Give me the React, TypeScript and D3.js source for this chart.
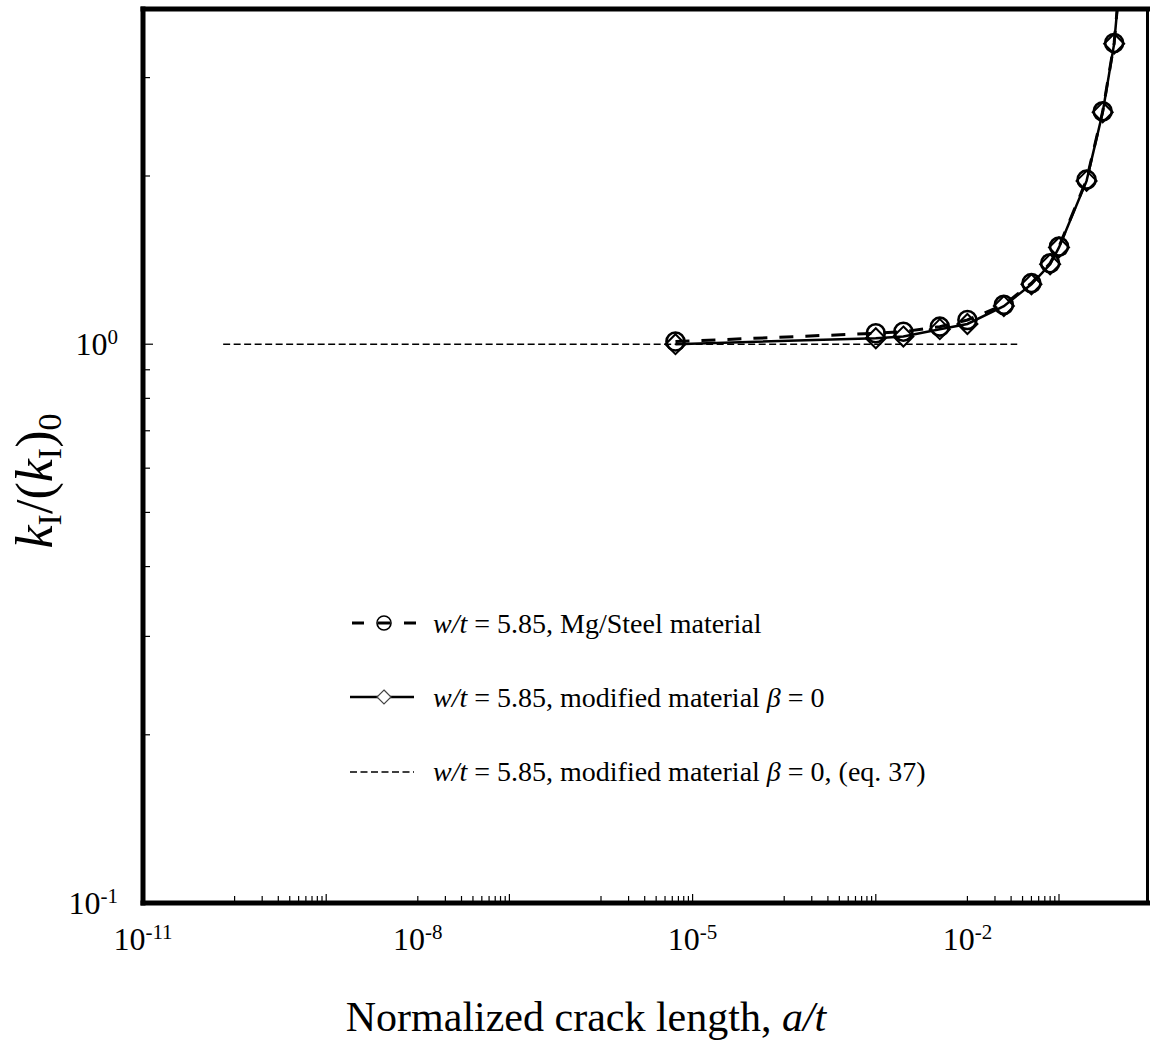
import React from "react";
import * as d3 from "d3";

// Normalized crack length a/t at which stress intensity factors were computed
const crackRatio = [6.5e-6, 0.001, 0.002, 0.005, 0.01, 0.025, 0.05, 0.08, 0.1, 0.2, 0.3, 0.4, 0.5];
// k_I/(k_I)_0 for the Mg/Steel bimaterial, w/t = 5.85
const kMgSteel = [1.011, 1.046, 1.053, 1.075, 1.105, 1.176, 1.286, 1.396, 1.495, 1.97, 2.61, 3.46, 5.2];
// k_I/(k_I)_0 for the modified material with beta = 0
const kModified = [1.0, 1.025, 1.032, 1.064, 1.087, 1.17, 1.28, 1.39, 1.49, 1.96, 2.6, 3.45, 5.2];
// Closed-form result (eq. 37), constant over its range
const eq37Ratio = [7.5e-11, 0.035];
const eq37K = [1, 1];

// Axis decorations
const xLabelExponents = [-11, -8, -5, -2];
const xMinorDecades = [-10, -8, -6, -4, -2];
const yLabelExponents = [-1, 0];
const yMinorValues = [0.2, 0.3, 0.4, 0.5, 0.6, 0.7, 0.8, 0.9, 2, 3];

const W = 1151;
const H = 1047;
const plot = { left: 143, right: 1147.5, top: 9, bottom: 903 };
const FONT = "'Liberation Serif', 'Times New Roman', Times, serif";

const x = d3.scaleLog().domain([1e-11, 0.925]).range([plot.left, plot.right]);
const y = d3.scaleLog().domain([0.1, 3.98]).range([plot.bottom, plot.top]);

const line = d3
  .line<[number, number]>()
  .x((d) => x(d[0]))
  .y((d) => y(d[1]));

const zip = (a: number[], b: number[]) => a.map((v, i) => [v, b[i]] as [number, number]);

const diamond = (cx: number, cy: number, r: number) =>
  `M${cx},${cy - r}L${cx + r},${cy}L${cx},${cy + r}L${cx - r},${cy}Z`;

const Pow10 = ({ exp, xPos, yPos, anchor }: { exp: number; xPos: number; yPos: number; anchor: string }) => (
  <text x={xPos} y={yPos} textAnchor={anchor} fontFamily={FONT} fontSize={32} fill="#000">
    10
    <tspan fontSize={21} dy={-11}>
      {exp < 0 ? `-${Math.abs(exp)}` : `${exp}`}
    </tspan>
  </text>
);

export default function App() {
  const mgPts = zip(crackRatio, kMgSteel);
  const modPts = zip(crackRatio, kModified);
  const eqPts = zip(eq37Ratio, eq37K);

  const xMinor: { v: number; end: boolean }[] = [];
  xMinorDecades.forEach((k) => {
    for (let m = 1; m <= 10; m++) xMinor.push({ v: m * Math.pow(10, k), end: m === 10 });
  });

  return (
    <svg
      width={W}
      height={H}
      style={{ position: "absolute", left: 0, top: 0, background: "#fff" }}
    >
      <defs>
        <clipPath id="plotArea">
          <rect
            x={plot.left}
            y={plot.top}
            width={plot.right - plot.left}
            height={plot.bottom - plot.top}
          />
        </clipPath>
      </defs>
      <rect width={W} height={H} fill="#fff" />

      {/* series */}
      <g clipPath="url(#plotArea)" fill="none" stroke="#000">
        <path d={line(eqPts) || ""} strokeWidth={1.6} strokeDasharray="7 3.5" />
        <path d={line(modPts) || ""} strokeWidth={2.5} />
        {modPts.map((d, i) => (
          <path key={"d" + i} d={diamond(x(d[0]), y(d[1]), 10)} strokeWidth={2} />
        ))}
        <path d={line(mgPts) || ""} strokeWidth={3} strokeDasharray="14 12" />
        {mgPts.map((d, i) => (
          <circle key={"c" + i} cx={x(d[0])} cy={y(d[1])} r={9} strokeWidth={2.6} />
        ))}
      </g>

      {/* minor and major ticks, pointing inward */}
      <g stroke="#000" strokeWidth={1.2}>
        {xMinor.map((t, i) => (
          <line
            key={"xt" + i}
            x1={x(t.v)}
            x2={x(t.v)}
            y1={plot.bottom}
            y2={plot.bottom - (t.end ? 9 : 7)}
          />
        ))}
        {yMinorValues.map((v, i) => (
          <line key={"yt" + i} x1={plot.left} x2={plot.left + 7} y1={y(v)} y2={y(v)} />
        ))}
        <line x1={plot.left} x2={plot.left + 10} y1={y(1)} y2={y(1)} />
      </g>

      {/* frame */}
      <g stroke="#000" strokeLinecap="square">
        <line x1={plot.left} x2={plot.right} y1={plot.top} y2={plot.top} strokeWidth={5} />
        <line x1={plot.right} x2={plot.right} y1={plot.top} y2={plot.bottom} strokeWidth={3} />
        <line x1={plot.left} x2={plot.right} y1={plot.bottom} y2={plot.bottom} strokeWidth={5} />
        <line x1={plot.left} x2={plot.left} y1={plot.top} y2={plot.bottom} strokeWidth={5} />
      </g>

      {/* tick labels */}
      {xLabelExponents.map((e) => (
        <Pow10 key={"xl" + e} exp={e} xPos={x(Math.pow(10, e))} yPos={950} anchor="middle" />
      ))}
      {yLabelExponents.map((e) => (
        <Pow10 key={"yl" + e} exp={e} xPos={118} yPos={y(Math.pow(10, e)) + 11} anchor="end" />
      ))}

      {/* axis titles */}
      <text x={586} y={1031} textAnchor="middle" fontFamily={FONT} fontSize={42} fill="#000">
        Normalized crack length, <tspan fontStyle="italic">a/t</tspan>
      </text>
      <text
        transform="translate(52,481) rotate(-90)"
        textAnchor="middle"
        fontFamily={FONT}
        fontSize={52}
        fill="#000"
      >
        <tspan fontStyle="italic">k</tspan>
        <tspan fontSize={34} dy={9}>I</tspan>
        <tspan dy={-9}>/(</tspan>
        <tspan fontStyle="italic">k</tspan>
        <tspan fontSize={34} dy={9}>I</tspan>
        <tspan dy={-9}>)</tspan>
        <tspan fontSize={34} dy={9}>0</tspan>
      </text>

      {/* legend */}
      <g fill="none" stroke="#000">
        <line x1={352} x2={416} y1={623} y2={623} strokeWidth={3} strokeDasharray="12 14" />
        <circle cx={384} cy={623} r={7} strokeWidth={1.6} />
        <line x1={350} x2={414} y1={697} y2={697} strokeWidth={2.5} />
        <path d={diamond(384, 697, 7)} fill="#fff" stroke="#444" strokeWidth={1.2} />
        <line x1={350} x2={414} y1={772} y2={772} strokeWidth={1.6} strokeDasharray="7 3.5" />
      </g>
      <g fontFamily={FONT} fontSize={28} fill="#000">
        <text x={433} y={633}>
          <tspan fontStyle="italic">w/t</tspan> = 5.85, Mg/Steel material
        </text>
        <text x={433} y={707}>
          <tspan fontStyle="italic">w/t</tspan> = 5.85, modified material{" "}
          <tspan fontStyle="italic">β</tspan> = 0
        </text>
        <text x={433} y={781}>
          <tspan fontStyle="italic">w/t</tspan> = 5.85, modified material{" "}
          <tspan fontStyle="italic">β</tspan> = 0, (eq. 37)
        </text>
      </g>
    </svg>
  );
}
